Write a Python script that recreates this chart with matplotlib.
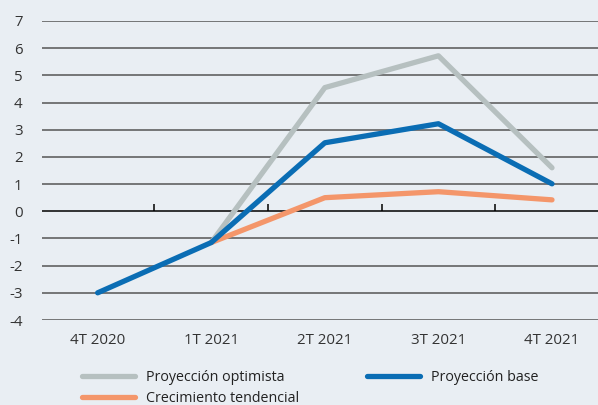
import matplotlib.pyplot as plt
import numpy as np

plt.rcParams["font.family"] = ["Open Sans", "DejaVu Sans"]
plt.rcParams["axes.unicode_minus"] = False

trimestres = ["4T 2020", "1T 2021", "2T 2021", "3T 2021", "4T 2021"]
optimista = [np.nan, -1.15, 4.55, 5.72, 1.6]
base = [-3.0, -1.15, 2.52, 3.22, 1.01]
tendencial = [np.nan, -1.15, 0.5, 0.72, 0.42]

bg = "#E9EEF3"
fig = plt.figure(figsize=(5.98, 4.05), dpi=100, facecolor=bg)
ax = fig.add_axes([42/598, 85/405, 1 - 42/598, 299/405], facecolor=bg)

x = np.arange(len(trimestres))

# lineas de fondo
for v in range(-4, 8):
    c = "black" if v == 0 else "#555555"
    ax.axhline(v, color=c, lw=1.1, zorder=1)
# marcas sobre el cero
ax.vlines(np.arange(-0.5, 4, 1.0), 0, 0.28, color="black", lw=1.1, zorder=1)

lo, = ax.plot(x, optimista, color="#B6C0C0", lw=3.8, solid_capstyle="round", zorder=3, label="Proyección optimista")
lt, = ax.plot(x, tendencial, color="#F4966A", lw=3.8, solid_capstyle="round", zorder=4, label="Crecimiento tendencial")
lb, = ax.plot(x, base, color="#0A6DB4", lw=3.8, solid_capstyle="round", zorder=5, label="Proyección base")

ax.set_xlim(-0.49, 4.405)
ax.set_ylim(-4, 7)
ax.set_yticks(range(-4, 8))
ax.set_xticks(x)
ax.set_xticklabels(trimestres)
ax.tick_params(length=0, labelsize=10.8, colors="#333333")
ax.tick_params(axis="y", pad=14)
ax.tick_params(axis="x", pad=9)
for s in ax.spines.values():
    s.set_visible(False)

fig.legend(handles=[lo, lt, lb], ncol=2, loc="upper left", bbox_to_anchor=(0.125, 0.105),
           frameon=False, fontsize=10.3, handlelength=3.7, columnspacing=4.8,
           labelspacing=0.45, handletextpad=0.75, labelcolor="#222222",
           borderpad=0)

fig.savefig("out.png", dpi=100, facecolor=bg)
